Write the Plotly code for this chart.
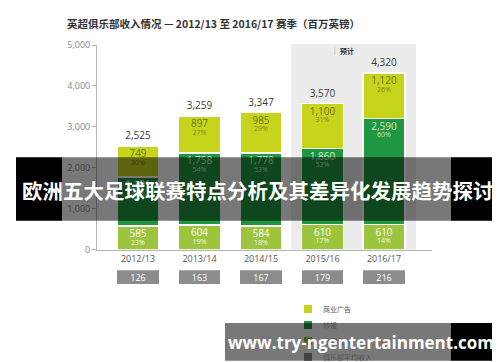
import plotly.graph_objects as go

# ---------------- data ----------------
seasons = ["2012/13", "2013/14", "2014/15", "2015/16", "2016/17"]
matchday = [585, 604, 584, 610, 610]
broadcast = [1191, 1758, 1778, 1860, 2590]
commercial = [749, 897, 985, 1100, 1120]
totals = [2525, 3259, 3347, 3570, 4320]
matchday_pct = [23, 19, 18, 17, 14]
broadcast_pct = [47, 54, 53, 52, 60]
commercial_pct = [30, 27, 29, 31, 26]
club_avg = [126, 163, 167, 179, 216]
forecast_seasons = ["2015/16", "2016/17"]
y_ticks = [0, 1000, 2000, 3000, 4000, 5000]

series_names = ["商业广告", "转播", "比赛日", "俱乐部平均收入"]

# ---------------- style ----------------
C_COM = "#c6d51c"
C_BRD = "#1f963f"
C_MAT = "#9cc43c"
C_AVG = "#8c8c8c"
FONT = "Open Sans, Noto Sans CJK SC, sans-serif"
CJK = "Noto Sans CJK SC, sans-serif"

W, H = 500, 362
ML, MR, MT, MB = 89, 76, 37, 86
PW, PH = W - ML - MR, H - MT - MB
ZERO_PX = 241.7
YMAX = 5000
Y_DOM0 = (H - MB - ZERO_PX) / PH
BOX_TOP_PX = 262.3
Y2_DOM1 = (H - MB - BOX_TOP_PX) / PH
UNIT_PER_PX = YMAX / (ZERO_PX - MT)
BAR_W = 0.68


def px_x(px):
    return (px - ML) / PW


def px_y(py):
    return (H - MB - py) / PH


def dy(px):
    return px * UNIT_PER_PX


idx = list(range(len(seasons)))
brd_top = [m + b for m, b in zip(matchday, broadcast)]
com_top = [t + c for t, c in zip(brd_top, commercial)]

fig = go.Figure()

for vals, col in [(matchday, C_MAT), (broadcast, C_BRD), (commercial, C_COM)]:
    fig.add_trace(go.Bar(
        x=idx, y=vals, width=BAR_W, marker=dict(color=col, line=dict(color="white", width=1.5)),
        hoverinfo="skip", showlegend=False))

# segment labels
for tops, vals, pcts, vcol, pcol in [
    (matchday, matchday, matchday_pct, "#ffffff", "#f4f8ea"),
    (brd_top, broadcast, broadcast_pct, "#d6eecb", "#cfe8c2"),
    (com_top, commercial, commercial_pct, "#6b7514", "#7c8420"),
]:
    fig.add_trace(go.Scatter(
        x=idx, y=[t - dy(8.5) for t in tops], mode="text",
        text=[f"{v:,}" for v in vals], textposition="middle center",
        textfont=dict(family=FONT, size=10, color=vcol), hoverinfo="skip", showlegend=False))
    fig.add_trace(go.Scatter(
        x=idx, y=[t - dy(17) for t in tops], mode="text",
        text=[f"{p}%" for p in pcts], textposition="middle center",
        textfont=dict(family=FONT, size=7, color=pcol), hoverinfo="skip", showlegend=False))

# totals
fig.add_trace(go.Scatter(
    x=idx, y=[t + dy(9.5) for t in totals], mode="text",
    text=[f"{t:,}" for t in totals], textposition="middle center",
    textfont=dict(family=FONT, size=10, color="#3a3a3a"), hoverinfo="skip", showlegend=False))

# club average boxes
fig.add_trace(go.Bar(
    x=idx, y=[1] * len(club_avg), yaxis="y2", width=BAR_W, marker=dict(color=C_AVG, line=dict(width=0)),
    text=[str(v) for v in club_avg], texttemplate="%{text}", textposition="inside",
    insidetextanchor="middle", constraintext="none",
    textfont=dict(family=FONT, size=9, color="white"), hoverinfo="skip", showlegend=False))

x0 = (ML - 130) / 61.5
x1 = (ML + PW - 130) / 61.5

f_idx = [seasons.index(s) for s in forecast_seasons]

shapes = [
    dict(type="rect", xref="x", yref="paper", x0=min(f_idx) - 0.51, x1=max(f_idx) + 0.52,
         y0=Y_DOM0, y1=px_y(36), fillcolor="#ececec", line=dict(width=0), layer="below"),
    dict(type="line", xref="x", yref="paper", x0=3.2, x1=3.2, y0=px_y(39), y1=px_y(47),
         line=dict(color="#cccccc", width=1), layer="below"),
]

annotations = [
    dict(text="<b>英超俱乐部收入情况 — 2012/13 至 2016/17 赛季（百万英镑）</b>", xref="paper", yref="paper",
         x=px_x(57), y=px_y(15), xanchor="left", yanchor="middle", showarrow=False,
         font=dict(family=CJK, size=10.5, color="#333333")),
    dict(text="<b>预计</b>", xref="x", yref="paper", x=3.4, y=px_y(43),
         xanchor="center", yanchor="middle", showarrow=False,
         font=dict(family=CJK, size=7, color="#333333")),
]

# custom legend
leg_cols = [C_COM, C_BRD, C_MAT, C_AVG]
for k, (name, col) in enumerate(zip(series_names, leg_cols)):
    top = 297 + 16 * k
    shapes.append(dict(type="rect", xref="paper", yref="paper", x0=px_x(296), x1=px_x(304),
                       y0=px_y(top + 8), y1=px_y(top), fillcolor=col, line=dict(width=0), layer="above"))
    annotations.append(dict(text=name, xref="paper", yref="paper", x=px_x(313), y=px_y(top + 4),
                            xanchor="left", yanchor="middle", showarrow=False,
                            font=dict(family=CJK, size=7, color="#555555")))

# overlay banner
BAN_T, BAN_B = 149.3, 212.7
for a, b, c in [(8, 54, "black"), (54, 443, "rgba(0,0,0,0.53)"), (443, 492, "black")]:
    shapes.append(dict(type="rect", xref="paper", yref="paper", x0=px_x(a), x1=px_x(b),
                       y0=px_y(BAN_B), y1=px_y(BAN_T), fillcolor=c, line=dict(width=0), layer="above"))
annotations.append(dict(text="<b>欧洲五大足球联赛特点分析及其差异化发展趋势探讨</b>", xref="paper", yref="paper",
                        x=px_x(250), y=px_y(182), xanchor="center", yanchor="middle", showarrow=False,
                        font=dict(family=CJK, size=20.5, color="white")))

# watermark
WM_T, WM_B = 315, 352.7
for a, b, c in [(217, 443, "rgba(0,0,0,0.53)"), (443, 490, "black")]:
    shapes.append(dict(type="rect", xref="paper", yref="paper", x0=px_x(a), x1=px_x(b),
                       y0=px_y(WM_B), y1=px_y(WM_T), fillcolor=c, line=dict(width=0), layer="above"))
annotations.append(dict(text="<b>www.try-ngentertainment.com</b>", xref="paper", yref="paper",
                        x=px_x(353), y=px_y(334), xanchor="center", yanchor="middle", showarrow=False,
                        font=dict(family="Open Sans, sans-serif", size=17, color="white")))

fig.update_layout(
    width=W, height=H, margin=dict(l=ML, r=MR, t=MT, b=MB, pad=0),
    paper_bgcolor="white", plot_bgcolor="white", barmode="stack",
    font=dict(family=FONT),
    xaxis=dict(range=[x0, x1], tickvals=idx, ticktext=seasons, showline=True, linecolor="#b4b4b4",
               linewidth=1, ticks="", showgrid=False, zeroline=False, anchor="y",
               tickfont=dict(size=9, color="#555555")),
    yaxis=dict(domain=[Y_DOM0, 1], range=[0, YMAX], tickvals=y_ticks,
               ticktext=[f"{v:,}" for v in y_ticks], ticks="outside", ticklen=4, tickcolor="#b4b4b4",
               showline=True, linecolor="#b4b4b4", linewidth=1, showgrid=False, zeroline=False,
               tickfont=dict(size=9, color="#888888")),
    yaxis2=dict(domain=[0, Y2_DOM1], range=[0, 1], visible=False, anchor="x"),
    shapes=shapes, annotations=annotations,
)

fig.write_html("out.html")
